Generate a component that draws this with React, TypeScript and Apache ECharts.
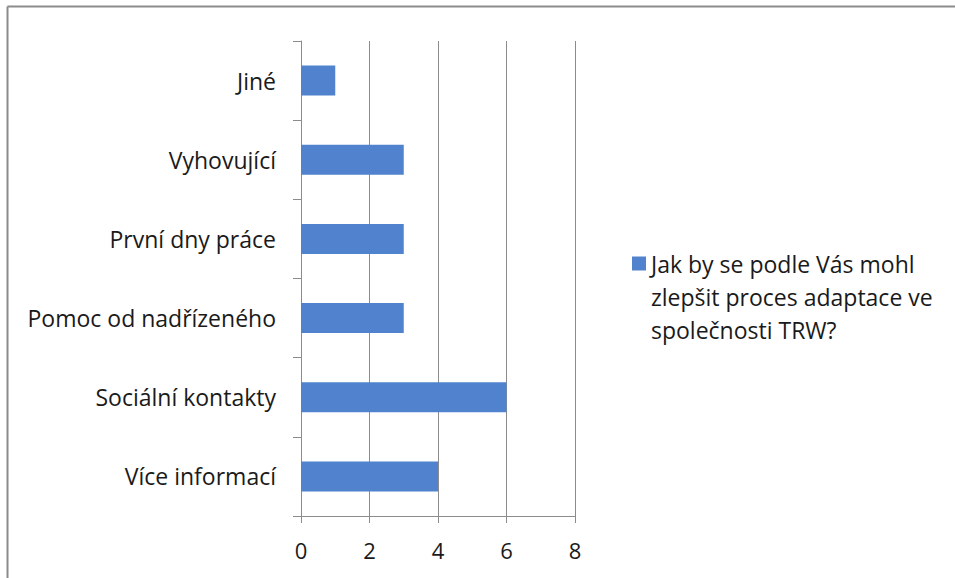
import React, { useEffect, useRef } from "react";
import * as echarts from "echarts";

const categories = [
  "Více informací",
  "Sociální kontakty",
  "Pomoc od nadřízeného",
  "První dny práce",
  "Vyhovující",
  "Jiné",
];
const values = [4, 6, 3, 3, 3, 1];
const seriesName = "Jak by se podle Vás mohl\nzlepšit proces adaptace ve\nspolečnosti TRW?";
const xTicks = { min: 0, max: 8, interval: 2 };

const FONT = "Open Sans";

export default function App() {
  const ref = useRef<HTMLDivElement>(null);
  useEffect(() => {
    if (!ref.current) return;
    const chart = echarts.init(ref.current, undefined, { renderer: "svg" });
    chart.setOption({
      animation: false,
      backgroundColor: "#ffffff",
      textStyle: { fontFamily: FONT },
      grid: { left: 301, right: 380, top: 41, bottom: 62, containLabel: false },
      xAxis: {
        type: "value",
        min: xTicks.min,
        max: xTicks.max,
        interval: xTicks.interval,
        axisLine: { show: true, lineStyle: { color: "#8c8c8c", width: 1 } },
        axisTick: { show: true, length: 7, lineStyle: { color: "#8c8c8c" } },
        splitLine: { show: true, lineStyle: { color: "#8c8c8c", width: 1 } },
        axisLabel: { color: "#1a1a1a", fontSize: 22, fontFamily: FONT, margin: 23 },
      },
      yAxis: {
        type: "category",
        data: categories,
        axisLine: { show: true, lineStyle: { color: "#8c8c8c", width: 1 } },
        axisTick: { show: true, length: 8, lineStyle: { color: "#8c8c8c" } },
        axisLabel: { color: "#1a1a1a", fontSize: 23, fontFamily: FONT, margin: 25 },
        splitLine: { show: false },
      },
      legend: {
        show: true,
        orient: "vertical",
        left: 632,
        top: 181,
        padding: 0,
        itemWidth: 14,
        itemHeight: 14,
        itemGap: 6,
        icon: "rect",
        formatter: (name: string) => "\n\n" + name,
        textStyle: {
          fontSize: 23,
          lineHeight: 33,
          color: "#1a1a1a",
          fontFamily: FONT,
        },
        data: [seriesName],
      },
      series: [
        {
          name: seriesName,
          type: "bar",
          data: values,
          barWidth: 30,
          itemStyle: { color: "#5082cd" },
        },
      ],
      graphic: [
        {
          type: "line",
          shape: { x1: 7.5, y1: 6.5, x2: 960, y2: 6.5 },
          style: { stroke: "#8c8c8c", lineWidth: 2 },
          silent: true,
        },
        {
          type: "line",
          shape: { x1: 7.5, y1: 6.5, x2: 7.5, y2: 600 },
          style: { stroke: "#8c8c8c", lineWidth: 2 },
          silent: true,
        },
      ],
    });
    return () => chart.dispose();
  }, []);
  return (
    <div
      ref={ref}
      style={{ position: "fixed", left: 0, top: 0, width: 955, height: 578 }}
    />
  );
}
